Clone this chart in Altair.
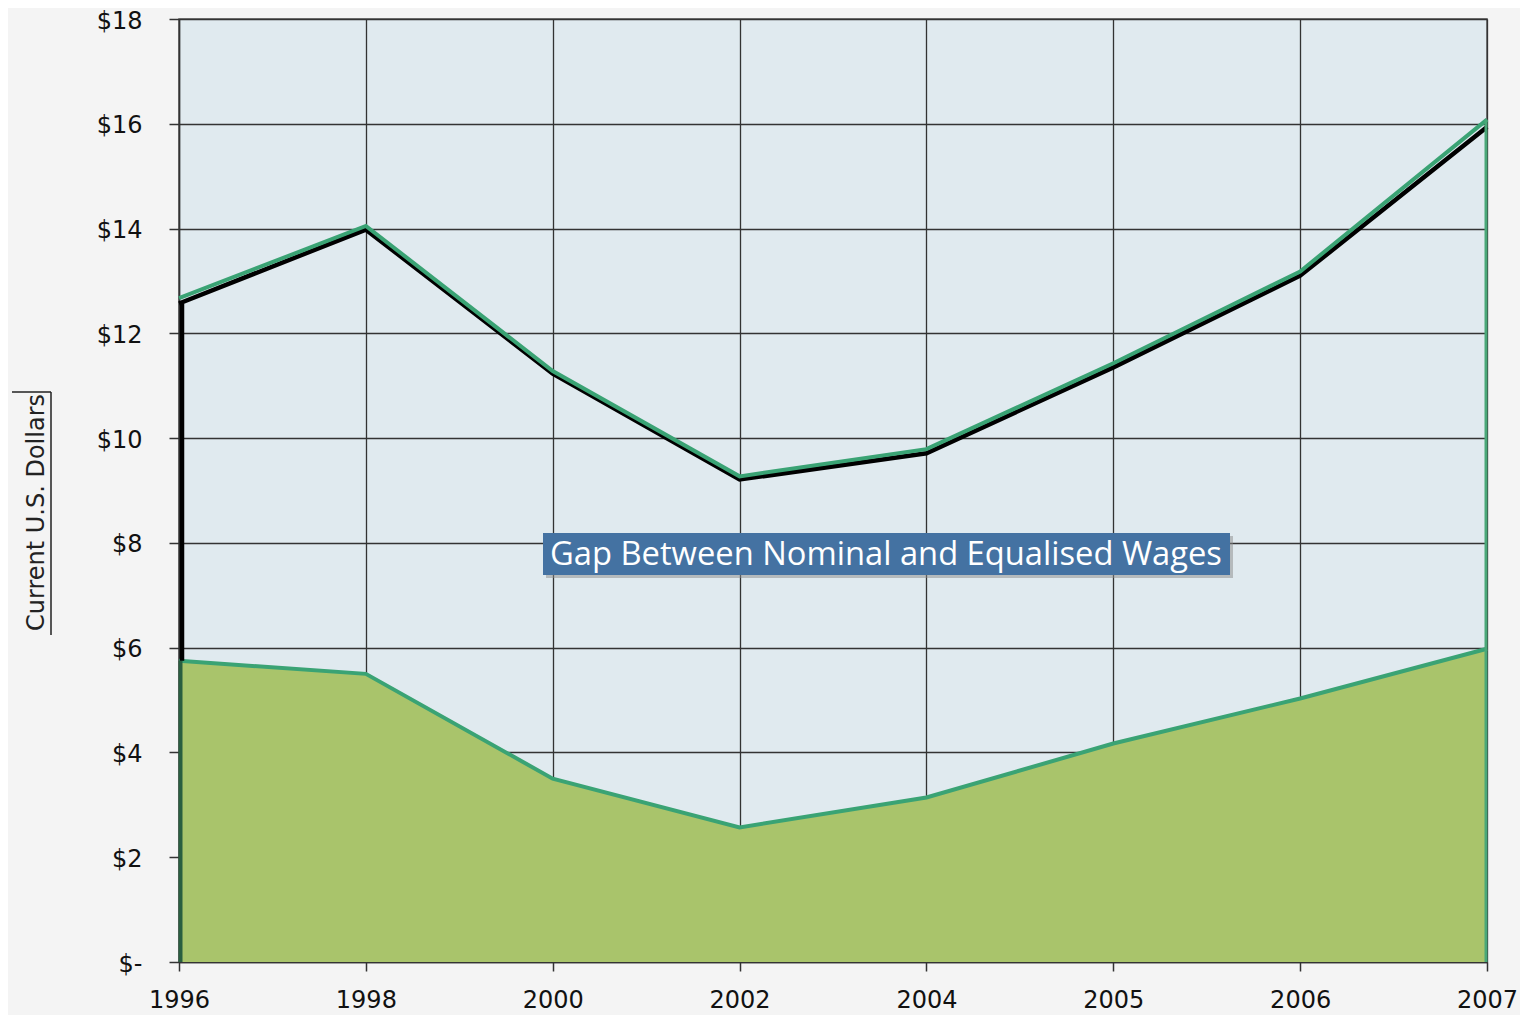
import altair as alt
import pandas as pd

years = ["1996", "1998", "2000", "2002", "2004", "2005", "2006", "2007"]
nominal_green = [12.67, 14.05, 11.28, 9.27, 9.79, 11.43, 13.18, 16.08]
nominal_black = [12.57, 13.98, 11.23, 9.21, 9.71, 11.35, 13.10, 15.94]
equalised = [5.75, 5.50, 3.50, 2.57, 3.14, 4.17, 5.03, 5.98]
y_ticks = [0, 2, 4, 6, 8, 10, 12, 14, 16, 18]
y_title = "Current U.S. Dollars"
gap_label = "Gap Between Nominal and Equalised Wages"

idx = list(range(len(years)))
df = pd.DataFrame({"i": idx, "year": years, "top": nominal_green,
                   "shadow": nominal_black, "lower": equalised})

FONT = "DejaVu Sans"
label_expr = "[" + ",".join(f"'{y}'" for y in years) + "][datum.value]"

x_enc = alt.X("i:Q", scale=alt.Scale(domain=[0, len(years) - 1], nice=False, zero=False),
              axis=alt.Axis(values=idx, labelExpr=label_expr, title=None, grid=True,
                            labelFlush=False, labelBound=False,
                            tickSize=9, labelPadding=17, labelFontSize=24))


def Y(field):
    return alt.Y(f"{field}:Q", scale=alt.Scale(domain=[0, 18], nice=False),
                 title=y_title,
                 axis=alt.Axis(values=y_ticks,
                               labelExpr="datum.value == 0 ? '$-' : '$' + datum.value",
                               grid=True, tickSize=10, labelPadding=27, labelFontSize=24,
                               labelFlush=False, labelOffset=2,
                               titleAngle=-90, titleX=-136, titleY=493,
                               titleBaseline="alphabetic", titleAlign="center",
                               titleFontSize=24, titleFontWeight="normal", titleColor="#222"))


base = alt.Chart(df)

area = base.mark_area(color="#a9c46b", opacity=1).encode(x=x_enc, y=Y("lower"))
lower_line = base.mark_line(color="#3aa374", strokeWidth=4).encode(x=x_enc, y=Y("lower"))
black_line = base.mark_line(color="#000000", strokeWidth=4.5).encode(x=x_enc, y=Y("shadow"))
green_line = base.mark_line(color="#3aa374", strokeWidth=4).encode(x=x_enc, y=Y("top"))

first = df.iloc[[0]]
last = df.iloc[[-1]]
left_black = alt.Chart(first).mark_rule(color="#000000", strokeWidth=4.5, xOffset=3).encode(
    x=x_enc, y=Y("lower"), y2="shadow:Q")
left_green = alt.Chart(first).mark_rule(color="#2a5e40", strokeWidth=4, xOffset=1.5).encode(
    x=x_enc, y=alt.Y("zero:Q", scale=alt.Scale(domain=[0, 18], nice=False), title=y_title), y2="lower:Q"
).transform_calculate(zero="0")
right_green = alt.Chart(last).mark_rule(color="#4aa878", strokeWidth=3, xOffset=-1).encode(
    x=x_enc, y=alt.Y("zero:Q", scale=alt.Scale(domain=[0, 18], nice=False), title=y_title), y2="top:Q"
).transform_calculate(zero="0")

one = alt.Data(values=[{"a": 1}])
ul_v = alt.Chart(one).mark_rule(color="#222", strokeWidth=1.5).encode(
    x=alt.value(-128), y=alt.value(373), y2=alt.value(616))
ul_h = alt.Chart(one).mark_rule(color="#222", strokeWidth=1.5).encode(
    x=alt.value(-167), x2=alt.value(-128), y=alt.value(373))

shadow_box = alt.Chart(one).mark_rect(color="#8a8a8a", opacity=0.5).encode(
    x=alt.value(367), x2=alt.value(1054), y=alt.value(517), y2=alt.value(559))
box = alt.Chart(one).mark_rect(color="#4472a2", opacity=1).encode(
    x=alt.value(364), x2=alt.value(1051), y=alt.value(514), y2=alt.value(556))
box_text = alt.Chart(one).mark_text(text=gap_label, color="white", font="Open Sans",
                                    fontSize=32.7, align="center", baseline="middle").encode(
    x=alt.value(707), y=alt.value(536))

chart = alt.layer(area, lower_line, black_line, green_line, left_green, left_black,
                  right_green, ul_v, ul_h, shadow_box, box, box_text).properties(
    width=1308, height=943,
    padding={"left": 171, "top": 11, "right": 33, "bottom": 53},
    autosize=alt.AutoSizeParams(type="none"),
    background="#f4f4f4",
).configure_view(
    fill="#e0eaef", stroke="#555555", strokeWidth=1.5
).configure_axis(
    gridColor="#333333", gridWidth=1.3, gridOpacity=1,
    domainColor="#333333", domainWidth=1.5, tickColor="#333333", tickWidth=1.5,
    labelFont=FONT, titleFont=FONT, labelColor="#111111",
)

chart.save("out.html", embed_options={"renderer": "svg", "actions": False})
